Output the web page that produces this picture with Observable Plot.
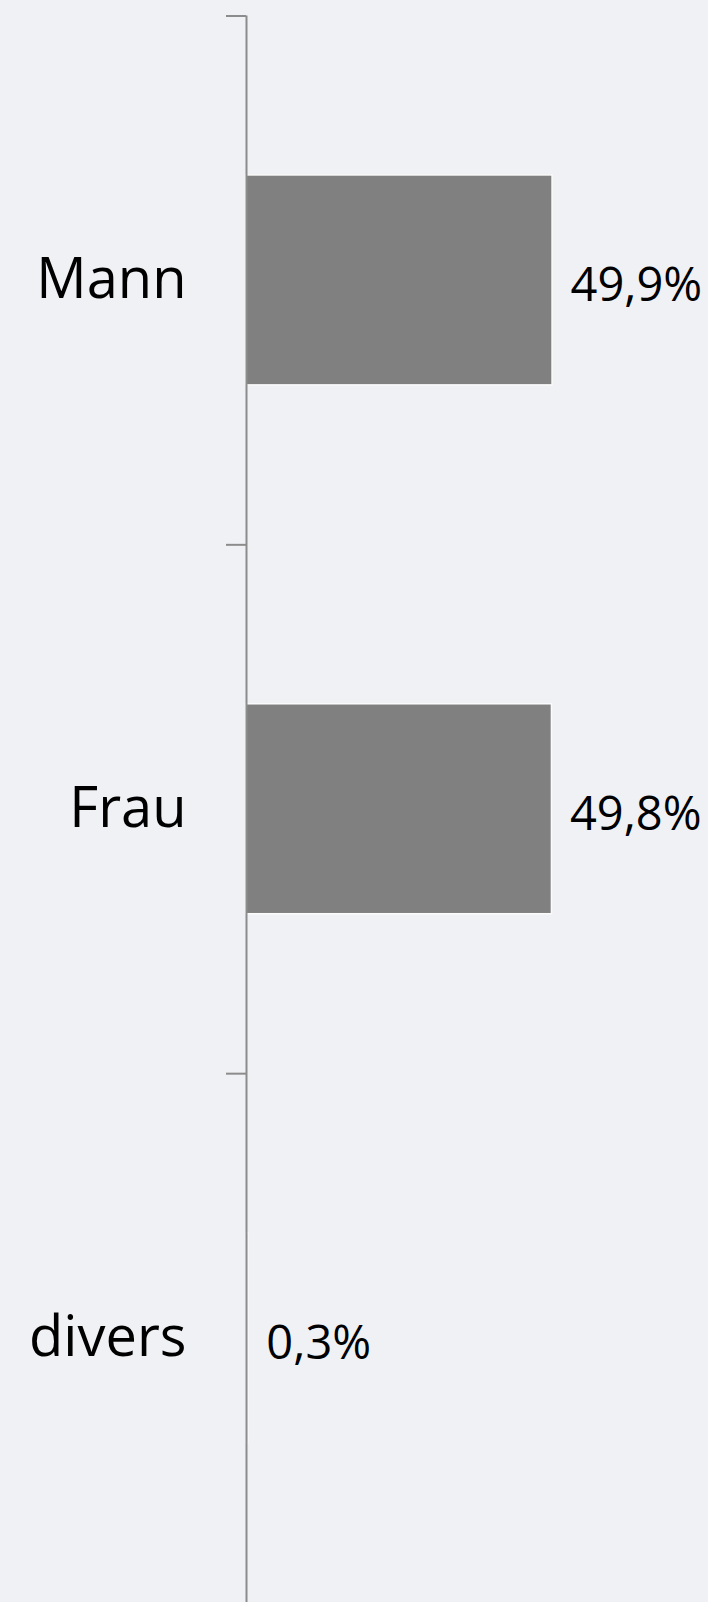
<!DOCTYPE html>
<html>
<head>
<meta charset="utf-8">
<script src="https://cdn.jsdelivr.net/npm/d3@7"></script>
<script src="https://cdn.jsdelivr.net/npm/@observablehq/plot@0.6"></script>
<style>
  html, body { margin: 0; padding: 0; background: #f0f1f5; }
  #chart { width: 708px; height: 1602px; overflow: hidden; }
</style>
</head>
<body>
<div id="chart"></div>
<script>
const categories = ["Mann", "Frau", "divers"];
const values = [49.9, 49.8, 0.3];
const valueLabels = ["49,9%", "49,8%", "0,3%"];

const data = categories.map((c, i) => ({cat: c, value: values[i], label: valueLabels[i]}));

const width = 708, height = 1602;
const marginTop = 15.5, marginBottom = 0, marginLeft = 246, marginRight = 94;
const step = (height - marginTop - marginBottom) / categories.length;
const barInset = step * 0.3015;
const axisColor = "#8c8c8c";
const font = "'Open Sans', 'Noto Sans', sans-serif";

const chart = Plot.plot({
  width, height, marginTop, marginBottom, marginLeft, marginRight,
  style: {background: "#f0f1f5", fontFamily: font, color: "#000"},
  x: {axis: null, domain: [0, 60]},
  y: {axis: null, domain: categories, padding: 0, round: false},
  marks: [
    Plot.barX(data, {
      x: "value", y: "cat",
      fill: "#808080", stroke: "#fbfbfb", strokeWidth: 1.5,
      insetTop: barInset, insetBottom: barInset
    }),
    Plot.ruleX([0], {stroke: axisColor, strokeWidth: 2}),
    Plot.ruleY(categories, {
      y: d => d, x1: 0, x2: 0, insetLeft: -20,
      dy: -step / 2, stroke: axisColor, strokeWidth: 2
    }),
    Plot.text(data, {
      x: 0, y: "cat", text: "cat",
      textAnchor: "end", dx: -60, dy: 0,
      fontSize: 56, fill: "#000"
    }),
    Plot.text(data, {
      x: "value", y: "cat", text: "label",
      textAnchor: "start", dx: 18, dy: 6,
      fontSize: 47, fill: "#000"
    })
  ]
});
document.getElementById("chart").appendChild(chart);
</script>
</body>
</html>
